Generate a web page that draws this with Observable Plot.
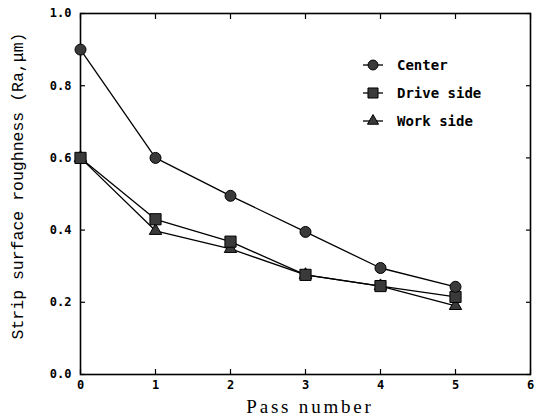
<!DOCTYPE html>
<html><head><meta charset="utf-8">
<script src="https://cdn.jsdelivr.net/npm/d3@7"></script>
<script src="https://cdn.jsdelivr.net/npm/@observablehq/plot@0.6"></script>
<style>
body{margin:0;background:#fff;}
#wrap{position:relative;width:541px;height:418px;}
#legend{position:absolute;left:360px;top:51px;font:bold 14px "DejaVu Sans Mono",monospace;color:#000;}
#legend .row{display:flex;align-items:center;height:28px;}
#legend svg{margin-right:11px;}
</style></head><body><div id="wrap"><div id="legend"></div></div>
<script>
const passes = [0, 1, 2, 3, 4, 5];
const center = [0.90, 0.60, 0.495, 0.395, 0.295, 0.243];
const driveSide = [0.60, 0.43, 0.368, 0.276, 0.245, 0.215];
const workSide = [0.60, 0.398, 0.348, 0.276, 0.245, 0.19];
const seriesNames = ["Center", "Drive side", "Work side"];
const seriesSymbols = ["circle", "square", "triangle"];
const xTicks = [0, 1, 2, 3, 4, 5, 6];
const yTicks = [0, 0.2, 0.4, 0.6, 0.8, 1.0];
const xTitle = "Pass number";
const yTitle = "Strip surface roughness (Ra,\u03bcm)";

const seriesValues = {"Center": center, "Drive side": driveSide, "Work side": workSide};
const symbolRadius = {"Center": 5.5, "Drive side": 6.3, "Work side": 4.6};
const markerFill = "#3a3a3a";
// draw order: Work side, Drive side, Center (center on top)
const drawOrder = ["Work side", "Drive side", "Center"];
const rows = [];
for (const name of drawOrder) {
  passes.forEach((p, i) => rows.push({series: name, pass: p, value: seriesValues[name][i]}));
}

const tickFont = {fontWeight: "bold", fontSize: 12, fontFamily: "DejaVu Sans Mono, monospace"};

const chart = Plot.plot({
  width: 541, height: 418,
  marginLeft: 80, marginRight: 11, marginTop: 13, marginBottom: 44,
  x: {domain: [0, 6]},
  y: {domain: [0, 1]},
  symbol: {domain: seriesNames, range: seriesSymbols},
  style: {background: "white", color: "black", overflow: "visible"},
  marks: [
    Plot.axisX(xTicks, {anchor: "bottom", tickSize: 0, tickPadding: 6, tickFormat: d => String(d), label: null, ...tickFont}),
    Plot.axisX(xTicks, {anchor: "bottom", tickSize: -5, fill: "none", label: null, strokeWidth: 1.2}),
    Plot.axisX(xTicks, {anchor: "top", tickSize: -5, fill: "none", label: null, strokeWidth: 1.2}),
    Plot.axisY(yTicks, {anchor: "left", tickSize: 0, tickPadding: 9, tickFormat: d => d.toFixed(1), label: null, ...tickFont}),
    Plot.axisY(yTicks, {anchor: "left", tickSize: -5, fill: "none", label: null, strokeWidth: 1.2}),
    Plot.axisY(yTicks, {anchor: "right", tickSize: -5, fill: "none", label: null, strokeWidth: 1.2}),
    Plot.frame({stroke: "black", strokeWidth: 1.6}),
    Plot.line(rows, {x: "pass", y: "value", z: "series", stroke: "black", strokeWidth: 1.3}),
    ...drawOrder.map(name => Plot.dot(rows.filter(d => d.series === name), {
      x: "pass", y: "value", symbol: "series", r: symbolRadius[name],
      fill: markerFill, stroke: "black", strokeWidth: 1
    }))
  ]
});

const svg = d3.select(chart);
svg.append("text")
  .attr("x", 310).attr("y", 413)
  .attr("text-anchor", "middle")
  .style("font-family", "Liberation Serif, serif")
  .style("font-size", "19px")
  .style("letter-spacing", "2.8px")
  .style("fill", "black")
  .text(xTitle);
svg.append("text")
  .attr("transform", "translate(19,186) rotate(-90)")
  .attr("text-anchor", "middle")
  .attr("dominant-baseline", "middle")
  .style("font-family", "Liberation Mono, monospace")
  .style("font-size", "16.5px")
  .style("fill", "black")
  .text(yTitle);

const wrap = document.getElementById("wrap");
wrap.insertBefore(chart, wrap.firstChild);

const symMap = {circle: d3.symbolCircle, square: d3.symbolSquare, triangle: d3.symbolTriangle};
const legend = d3.select("#legend");
seriesNames.forEach((name, i) => {
  const row = legend.append("div").attr("class", "row");
  const s = row.append("svg").attr("width", 26).attr("height", 16);
  s.append("line").attr("x1", 3).attr("x2", 23).attr("y1", 8).attr("y2", 8).attr("stroke", "black").attr("stroke-width", 1.3);
  const rr = symbolRadius[name] * 0.9;
  s.append("path").attr("transform", "translate(13,8)")
    .attr("d", d3.symbol(symMap[seriesSymbols[i]], rr * rr * Math.PI)())
    .attr("fill", markerFill).attr("stroke", "black");
  row.append("span").text(name);
});
</script>
</body></html>
